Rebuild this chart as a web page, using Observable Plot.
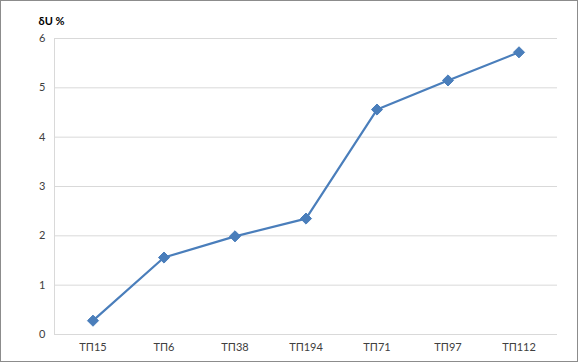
<!DOCTYPE html>
<html>
<head>
<meta charset="utf-8">
<script src="https://cdn.jsdelivr.net/npm/d3@7"></script>
<script src="https://cdn.jsdelivr.net/npm/@observablehq/plot@0.6"></script>
<style>
  html, body { margin: 0; padding: 0; background: #fff; }
  #wrap { position: relative; width: 578px; height: 362px; overflow: hidden; }
  #border { position: absolute; left: 0; top: 0; width: 578px; height: 362px; box-sizing: border-box; border: 1px solid #8c8c8c; pointer-events: none; }
  #wrap svg { position: absolute; left: 0; top: 0; }
</style>
</head>
<body>
<div id="wrap"><div id="border"></div></div>
<script>
const categories = ["ТП15", "ТП6", "ТП38", "ТП194", "ТП71", "ТП97", "ТП112"];
const values = [0.28, 1.56, 1.99, 2.35, 4.56, 5.15, 5.72];
const yTicks = [0, 1, 2, 3, 4, 5, 6];
const yLabel = "δU %";

const data = categories.map((c, i) => ({name: c, value: values[i]}));
const color = "#4a7ebb";

function leftAxisLine(index, scales, values, dimensions) {
  const {marginLeft, marginTop, height, marginBottom} = dimensions;
  const line = document.createElementNS("http://www.w3.org/2000/svg", "line");
  line.setAttribute("x1", marginLeft + 0.5);
  line.setAttribute("x2", marginLeft + 0.5);
  line.setAttribute("y1", scales.y(6));
  line.setAttribute("y2", scales.y(0));
  line.setAttribute("stroke", "#d9d9d9");
  return line;
}

const chart = Plot.plot({
  width: 578,
  height: 362,
  marginLeft: 54,
  marginRight: 21,
  marginTop: 38,
  marginBottom: 28,
  style: {fontFamily: "Lato, 'Open Sans', sans-serif", fontSize: "11px", color: "#404040", background: "transparent"},
  x: {type: "band", domain: categories, padding: 0, label: null, tickSize: 0, tickPadding: 9},
  y: {domain: [0, 6], ticks: yTicks, tickFormat: d => String(d), label: null, tickSize: 0, tickPadding: 9},
  marks: [
    Plot.gridY(yTicks, {stroke: "#d9d9d9", strokeOpacity: 1, strokeWidth: 1}),
    leftAxisLine,
    Plot.ruleY([0], {stroke: "#d9d9d9", strokeWidth: 1}),
    Plot.line(data, {x: "name", y: "value", stroke: color, strokeWidth: 2.2}),
    Plot.dot(data, {x: "name", y: "value", symbol: "diamond2", r: 5, fill: color, stroke: color, strokeWidth: 1}),
    Plot.text([yLabel], {frameAnchor: "top-left", dx: -16, dy: -21, text: d => d, fontWeight: "bold", fill: "#000", textAnchor: "start", fontSize: 11})
  ]
});
document.getElementById("wrap").insertBefore(chart, document.getElementById("border"));
</script>
</body>
</html>
